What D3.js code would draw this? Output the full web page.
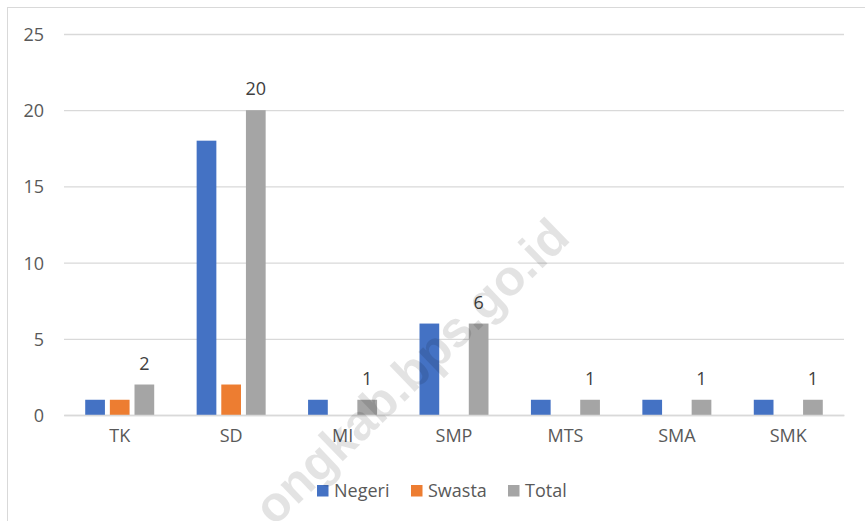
<!DOCTYPE html>
<html>
<head>
<meta charset="utf-8">
<script src="https://cdn.jsdelivr.net/npm/d3@7"></script>
<style>
  html, body { margin: 0; padding: 0; background: #fff; }
  svg { display: block; }
</style>
</head>
<body>
<svg id="chart" width="865" height="521"></svg>
<script>
const categories = ["TK", "SD", "MI", "SMP", "MTS", "SMA", "SMK"];
const seriesNames = ["Negeri", "Swasta", "Total"];
const negeri = [1, 18, 1, 6, 1, 1, 1];
const swasta = [1, 2, 0, 0, 0, 0, 0];
const total = [2, 20, 1, 6, 1, 1, 1];
const yTicks = [0, 5, 10, 15, 20, 25];
const colors = ["#4472C4", "#ED7D31", "#A5A5A5"];
const watermark = "ongkab.bps.go.id";

const seriesValues = [negeri, swasta, total];
const svg = d3.select("#chart");
const font = "'Open Sans', 'DejaVu Sans', sans-serif";

// chart border
svg.append("rect").attr("x", 7.5).attr("y", 7.5).attr("width", 870).attr("height", 530)
  .attr("fill", "#fff").attr("stroke", "#d9d9d9").attr("stroke-width", 1);

const plotL = 64, plotR = 844, plotT = 34, plotB = 415;
const y = d3.scaleLinear().domain([0, 25]).range([plotB, plotT]);
const x0 = d3.scaleBand().domain(categories).range([plotL, plotR]).padding(0);
const groupW = 69;
const x1 = d3.scaleBand().domain(seriesNames).range([-groupW / 2, groupW / 2]).paddingInner(0.2).paddingOuter(0);

// gridlines
const yAxis = d3.axisLeft(y).tickValues(yTicks).tickSize(-(plotR - plotL)).tickPadding(20).tickFormat(d3.format("d"));
const gy = svg.append("g").attr("transform", `translate(${plotL},0)`).call(yAxis);
gy.select(".domain").remove();
gy.selectAll(".tick line").attr("stroke", "#d9d9d9").attr("stroke-width", 1.3);
gy.selectAll(".tick text").attr("fill", "#595959").attr("font-family", font).attr("font-size", 18).attr("x", -20).attr("dy", "0.36em");

// watermark (behind bars? in reference it's over the bars)
// bars
categories.forEach((c, i) => {
  seriesNames.forEach((s, j) => {
    const v = seriesValues[j][i];
    if (v > 0) {
      svg.append("rect")
        .attr("x", x0(c) + x0.bandwidth() / 2 + x1(s))
        .attr("y", y(v))
        .attr("width", x1.bandwidth())
        .attr("height", y(0) - y(v))
        .attr("fill", colors[j]);
    }
  });
  svg.append("text")
    .attr("x", x0(c) + x0.bandwidth() / 2 + x1("Total") + x1.bandwidth() / 2)
    .attr("y", y(total[i]) - 15)
    .attr("text-anchor", "middle")
    .attr("font-family", font).attr("font-size", 18).attr("fill", "#404040")
    .text(total[i]);
});

// x axis
const xAxis = d3.axisBottom(x0).tickSize(0).tickPadding(14);
const gx = svg.append("g").attr("transform", `translate(0,${plotB})`).call(xAxis);
gx.select(".domain").attr("stroke", "#d9d9d9").attr("stroke-width", 1.3);
gx.selectAll(".tick text").attr("fill", "#595959").attr("font-family", font).attr("font-size", 18).attr("dy", "0.71em");

// legend
const legendItems = [
  { name: "Negeri", x: 317 },
  { name: "Swasta", x: 411 },
  { name: "Total", x: 508 }
];
const lg = svg.append("g");
legendItems.forEach((it, j) => {
  lg.append("rect").attr("x", it.x).attr("y", 485).attr("width", 11.5).attr("height", 11.5).attr("fill", colors[j]);
  lg.append("text").attr("x", it.x + 17).attr("y", 491).attr("dy", "0.36em")
    .attr("font-family", font).attr("font-size", 18).attr("fill", "#595959").text(it.name);
});

// watermark
svg.append("text")
  .attr("transform", "translate(572,240) rotate(-44)")
  .attr("text-anchor", "end")
  .attr("font-family", "'Liberation Sans', Arial, sans-serif")
  .attr("font-weight", "bold")
  .attr("font-size", 50)
  .attr("fill", "#000").attr("fill-opacity", 0.11)
  .text(watermark);
</script>
</body>
</html>
